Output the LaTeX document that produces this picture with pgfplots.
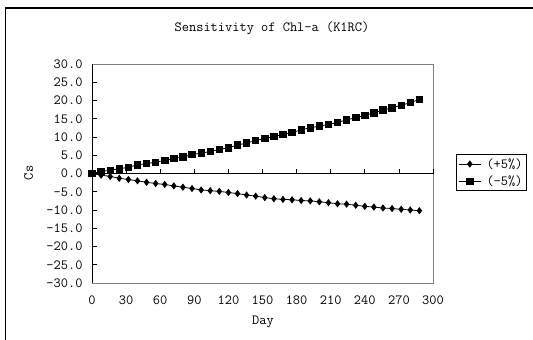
\documentclass[border=0pt]{standalone}
\usepackage{pgfplots}
\pgfplotsset{compat=1.18}
\newcommand\ff{\ttfamily\fontsize{14}{16}\selectfont}
\pgfplotstableread{
day plus minus
0 0 0
8 -0.45 0.55
16 -0.8 0.9
24 -1.3 1.3
32 -1.65 1.7
40 -2.0 2.4
48 -2.4 2.7
56 -2.75 3.1
64 -3.0 3.6
72 -3.4 4.1
80 -3.75 4.5
88 -4.1 5.2
96 -4.5 5.6
104 -4.7 6.0
112 -4.9 6.6
120 -5.2 7.06
128 -5.5 7.8
136 -5.9 8.35
144 -6.2 9.0
152 -6.6 9.6
160 -6.9 10.1
168 -7.1 10.7
176 -7.2 11.2
184 -7.4 12.0
192 -7.5 12.5
200 -7.75 13.0
208 -8.0 13.4
216 -8.3 14.0
224 -8.4 14.7
232 -8.7 15.3
240 -9.0 15.9
248 -9.2 16.6
256 -9.45 17.4
264 -9.6 18.0
272 -9.8 18.7
280 -10.0 19.4
288 -10.2 20.3
}\datatable
\begin{document}
\begin{tikzpicture}[x=1pt,y=1pt]
\useasboundingbox[fill=white] (0,0) rectangle (533,340);
\draw[line width=1.4pt] (5.5,-2) -- (5.5,332) -- (536,332);
\begin{axis}[
  at={(92pt,57pt)}, anchor=south west,
  scale only axis, width=341pt, height=219pt,
  xmin=0, xmax=300, ymin=-30, ymax=30,
  axis line style={draw=gray, line width=0.8pt},
  xtick={0,30,...,300},
  xticklabels={0,30,60,90,120,150,180,210,240,270,300},
  xtick style={draw=none},
  xticklabel style={font=\ff, yshift=-9pt},
  ytick={-30,-25,...,30},
  yticklabels={-30.0,-25.0,-20.0,-15.0,-10.0,-5.0,0.0,5.0,10.0,15.0,20.0,25.0,30.0},
  ytick pos=left, ytick align=inside,
  ytick style={draw=black, line width=0.8pt},
  major tick length=5pt,
  yticklabel style={font=\ff, xshift=-6pt},
  legend style={at={(1.0666,0.589)}, anchor=north west, draw=black, line width=0.8pt,
    font=\ff, inner xsep=2pt, inner ysep=2pt, row sep=2pt, column sep=3pt,
    nodes={inner sep=2pt}},
  legend cell align=left,
  legend image code/.code={\draw[mark repeat=2,mark phase=2] plot coordinates {(0pt,0pt)(11.3pt,0pt)(22.6pt,0pt)};},
  after end axis/.code={
    \draw[black, line width=0.9pt] (rel axis cs:0,0) -- (rel axis cs:0,1);
    \draw[black, line width=0.9pt] (axis cs:0,0) -- (axis cs:300,0);
    \foreach \xx in {30,60,...,300} {\draw[black, line width=0.8pt] (axis cs:\xx,0) -- ++(0,5pt);}
  },
]
\addplot[black, line width=0.8pt, mark=diamond*, mark size=3pt, mark options={solid}] table[x=day, y=plus] {\datatable};
\addlegendentry{(+5\%)}
\addplot[black, line width=0.8pt, mark=square*, mark size=3.2pt, mark options={solid}] table[x=day, y=minus] {\datatable};
\addlegendentry{(-5\%)}
\end{axis}
\node[font=\ff] at (272,312) {Sensitivity of Chl-a (K1RC)};
\node[font=\ff, rotate=90] at (28.5,167) {Cs};
\node[font=\ff] at (263,18) {Day};
\end{tikzpicture}
\end{document}
